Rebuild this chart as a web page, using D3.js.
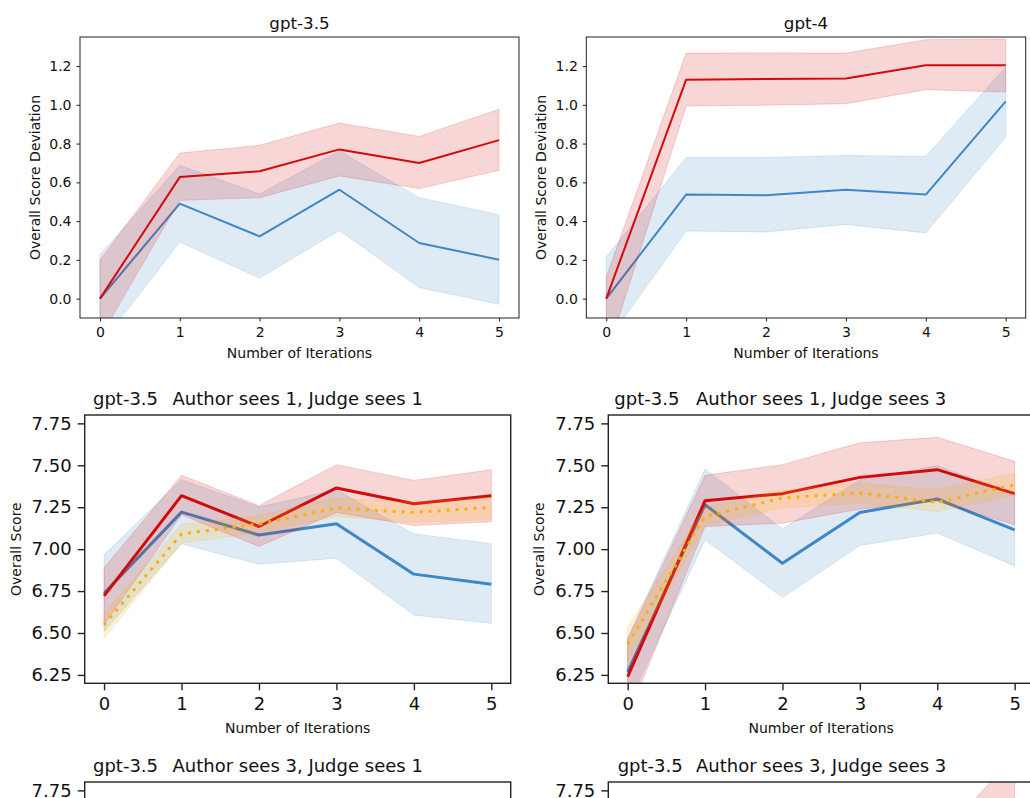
<!DOCTYPE html>
<meta charset="utf-8">
<style>
body { margin: 0; background: #fff; }
text { font-family: "DejaVu Sans", sans-serif; fill: #111; }
</style>
<svg width="1030" height="798"></svg>
<script src="https://d3js.org/d3.v7.min.js"></script>
<script>

// ---- data ----
var iterations = [0, 1, 2, 3, 4, 5];
var devTicks = [0, 0.2, 0.4, 0.6, 0.8, 1.0, 1.2];
var scoreTicks = [6.25, 6.5, 6.75, 7.0, 7.25, 7.5, 7.75];

// gpt-3.5, score deviation
var dev35RedMean  = [0, 0.627, 0.657, 0.770, 0.700, 0.818];
var dev35RedLow   = [-0.20, 0.507, 0.521, 0.633, 0.568, 0.662];
var dev35RedHigh  = [0.198, 0.751, 0.791, 0.906, 0.837, 0.977];
var dev35BlueMean = [0, 0.490, 0.321, 0.562, 0.287, 0.201];
var dev35BlueLow  = [-0.24, 0.292, 0.106, 0.352, 0.057, -0.029];
var dev35BlueHigh = [0.228, 0.688, 0.540, 0.762, 0.521, 0.433];

// gpt-4, score deviation
var dev4RedMean  = [0, 1.130, 1.133, 1.136, 1.204, 1.204];
var dev4RedLow   = [-0.30, 0.994, 0.998, 1.006, 1.078, 1.066];
var dev4RedHigh  = [0.111, 1.267, 1.268, 1.267, 1.336, 1.340];
var dev4BlueMean = [0, 0.537, 0.533, 0.562, 0.537, 1.018];
var dev4BlueLow  = [-0.227, 0.349, 0.344, 0.383, 0.339, 0.834];
var dev4BlueHigh = [0.215, 0.728, 0.728, 0.739, 0.734, 1.195];

// gpt-3.5, author sees 1, judge sees 1
var a1j1RedMean    = [6.721, 7.319, 7.135, 7.365, 7.271, 7.319];
var a1j1RedLow     = [6.55, 7.205, 7.016, 7.219, 7.141, 7.163];
var a1j1RedHigh    = [6.89, 7.44, 7.259, 7.504, 7.41, 7.474];
var a1j1BlueMean   = [6.737, 7.221, 7.084, 7.151, 6.851, 6.791];
var a1j1BlueLow    = [6.51, 7.032, 6.91, 6.946, 6.607, 6.558];
var a1j1BlueHigh   = [6.966, 7.414, 7.251, 7.354, 7.091, 7.032];
var a1j1OrangeMean = [6.548, 7.091, 7.15, 7.245, 7.219, 7.249];
var a1j1OrangeLow  = [6.468, 7.036, 7.10, 7.195, 7.16, 7.175];
var a1j1OrangeHigh = [6.62, 7.149, 7.20, 7.305, 7.28, 7.31];

// gpt-3.5, author sees 1, judge sees 3
var a1j3RedMean    = [6.239, 7.289, 7.331, 7.428, 7.474, 7.331];
var a1j3RedLow     = [6.00, 7.135, 7.155, 7.239, 7.285, 7.145];
var a1j3RedHigh    = [6.46, 7.44, 7.504, 7.634, 7.667, 7.524];
var a1j3BlueMean   = [6.268, 7.265, 6.916, 7.219, 7.299, 7.115];
var a1j3BlueLow    = [6.07, 7.056, 6.711, 7.022, 7.096, 6.90];
var a1j3BlueHigh   = [6.47, 7.478, 7.12, 7.414, 7.498, 7.33];
var a1j3OrangeMean = [6.434, 7.195, 7.305, 7.335, 7.279, 7.384];
var a1j3OrangeLow  = [6.33, 7.14, 7.245, 7.275, 7.225, 7.325];
var a1j3OrangeHigh = [6.537, 7.25, 7.35, 7.394, 7.354, 7.454];

// gpt-3.5, author sees 3, judge sees 1 (mostly below the visible edge)
var a3j1RedMean    = [6.70, 7.20, 7.24, 7.30, 7.27, 7.33];
var a3j1RedLow     = [6.52, 7.06, 7.10, 7.15, 7.12, 7.16];
var a3j1RedHigh    = [6.88, 7.34, 7.38, 7.45, 7.42, 7.50];
var a3j1BlueMean   = [6.72, 7.15, 7.05, 7.10, 6.95, 6.90];
var a3j1BlueLow    = [6.50, 6.96, 6.85, 6.90, 6.72, 6.66];
var a3j1BlueHigh   = [6.94, 7.34, 7.25, 7.30, 7.18, 7.14];
var a3j1OrangeMean = [6.55, 7.08, 7.14, 7.20, 7.18, 7.22];
var a3j1OrangeLow  = [6.47, 7.02, 7.09, 7.15, 7.12, 7.16];
var a3j1OrangeHigh = [6.63, 7.14, 7.19, 7.25, 7.24, 7.28];

// gpt-3.5, author sees 3, judge sees 3 (only the red band shows at the top)
var a3j3RedMean    = [6.30, 7.20, 7.25, 7.30, 7.30, 7.62];
var a3j3RedLow     = [6.10, 7.02, 7.08, 7.14, 7.15, 7.28];
var a3j3RedHigh    = [6.50, 7.38, 7.42, 7.46, 7.45, 7.96];
var a3j3BlueMean   = [6.28, 7.15, 7.00, 7.15, 7.20, 7.10];
var a3j3BlueLow    = [6.08, 6.95, 6.80, 6.95, 7.00, 6.88];
var a3j3BlueHigh   = [6.48, 7.35, 7.20, 7.35, 7.40, 7.32];
var a3j3OrangeMean = [6.42, 7.18, 7.27, 7.30, 7.26, 7.35];
var a3j3OrangeLow  = [6.32, 7.12, 7.21, 7.24, 7.20, 7.29];
var a3j3OrangeHigh = [6.52, 7.24, 7.33, 7.36, 7.32, 7.41];

var red = "#d40a0a", blue = "#3d87c6", orange = "#ffae00";

var svg = d3.select("svg"),
    height = +svg.attr("height");

function series(color, mean, low, high, dotted) {
  return { color: color, mean: mean, low: low, high: high, dotted: !!dotted };
}

var small = { tick: 14, label: 14, title: 16.7, tickLen: 3.5, pad: 5, line: 2, frame: 1 };
var big   = { tick: 18, label: 14, title: 18, tickLen: 7, pad: 6, line: 3, frame: 1.4 };

var panels = [
  { id: "p1", left: 80, right: 519, top: 37, bottom: 318, yDomain: [-0.1, 1.35],
    yTicks: devTicks, fmt: d3.format(".1f"), st: small,
    title: "gpt-3.5", ylabel: "Overall Score Deviation", ylabelX: 39.5, titleY: 29, xlabelY: 357.5,
    series: [series(blue, dev35BlueMean, dev35BlueLow, dev35BlueHigh),
             series(red, dev35RedMean, dev35RedLow, dev35RedHigh)] },
  { id: "p2", left: 586.3, right: 1025.7, top: 37, bottom: 318, yDomain: [-0.1, 1.35],
    yTicks: devTicks, fmt: d3.format(".1f"), st: small,
    title: "gpt-4", ylabel: "Overall Score Deviation", ylabelX: 546, titleY: 29, xlabelY: 357.5,
    series: [series(blue, dev4BlueMean, dev4BlueLow, dev4BlueHigh),
             series(red, dev4RedMean, dev4RedLow, dev4RedHigh)] },
  { id: "p3", left: 84.7, right: 510.7, top: 415, bottom: 683.3, yDomain: [6.2, 7.8],
    yTicks: scoreTicks, fmt: d3.format(".2f"), st: big,
    title: "Author sees 1, Judge sees 1", model: "gpt-3.5", modelX: 93,
    ylabel: "Overall Score", ylabelX: 20.5, titleY: 405, xlabelY: 733,
    series: [series(blue, a1j1BlueMean, a1j1BlueLow, a1j1BlueHigh),
             series(red, a1j1RedMean, a1j1RedLow, a1j1RedHigh),
             series(orange, a1j1OrangeMean, a1j1OrangeLow, a1j1OrangeHigh, true)] },
  { id: "p4", left: 608.3, right: 1034, top: 415, bottom: 683.3, yDomain: [6.2, 7.8],
    yTicks: scoreTicks, fmt: d3.format(".2f"), st: big,
    title: "Author sees 1, Judge sees 3", model: "gpt-3.5", modelX: 614.3,
    ylabel: "Overall Score", ylabelX: 543.5, titleY: 405, xlabelY: 733,
    series: [series(blue, a1j3BlueMean, a1j3BlueLow, a1j3BlueHigh),
             series(red, a1j3RedMean, a1j3RedLow, a1j3RedHigh),
             series(orange, a1j3OrangeMean, a1j3OrangeLow, a1j3OrangeHigh, true)] },
  { id: "p5", left: 84.7, right: 510.7, top: 782, bottom: 1050.3, yDomain: [6.2, 7.8],
    yTicks: scoreTicks, fmt: d3.format(".2f"), st: big,
    title: "Author sees 3, Judge sees 1", model: "gpt-3.5", modelX: 93,
    ylabel: "Overall Score", ylabelX: 20.5, titleY: 771.5, xlabelY: 1100,
    series: [series(blue, a3j1BlueMean, a3j1BlueLow, a3j1BlueHigh),
             series(red, a3j1RedMean, a3j1RedLow, a3j1RedHigh),
             series(orange, a3j1OrangeMean, a3j1OrangeLow, a3j1OrangeHigh, true)] },
  { id: "p6", left: 608.3, right: 1034, top: 782, bottom: 1050.3, yDomain: [6.2, 7.8],
    yTicks: scoreTicks, fmt: d3.format(".2f"), st: big,
    title: "Author sees 3, Judge sees 3", model: "gpt-3.5", modelX: 617.7,
    ylabel: "Overall Score", ylabelX: 543.5, titleY: 771.5, xlabelY: 1100,
    series: [series(blue, a3j3BlueMean, a3j3BlueLow, a3j3BlueHigh),
             series(red, a3j3RedMean, a3j3RedLow, a3j3RedHigh),
             series(orange, a3j3OrangeMean, a3j3OrangeLow, a3j3OrangeHigh, true)] }
];

panels.forEach(drawPanel);

function drawPanel(p) {
  var st = p.st;
  var x = d3.scaleLinear().domain([-0.25, 5.25]).range([p.left, p.right]);
  var y = d3.scaleLinear().domain(p.yDomain).range([p.bottom, p.top]);
  // the last row runs off the page: only draw what lands on it
  var onPage = p.bottom < height;

  svg.append("clipPath").attr("id", "clip-" + p.id)
    .append("rect")
      .attr("x", p.left).attr("y", p.top)
      .attr("width", p.right - p.left).attr("height", p.bottom - p.top);

  var g = svg.append("g").attr("clip-path", "url(#clip-" + p.id + ")");

  var area = d3.area()
      .x(function(d, i) { return x(iterations[i]); })
      .y0(function(d) { return y(d[0]); })
      .y1(function(d) { return y(d[1]); });
  var line = d3.line()
      .x(function(d, i) { return x(iterations[i]); })
      .y(function(d) { return y(d); });

  p.series.forEach(function(s) {
    var band = s.low.map(function(v, i) { return [v, s.high[i]]; });
    g.append("path")
        .datum(band)
        .attr("d", area)
        .attr("fill", s.color)
        .attr("fill-opacity", 0.17)
        .attr("stroke", s.color)
        .attr("stroke-opacity", 0.17)
        .attr("stroke-width", 1);
    g.append("path")
        .datum(s.mean)
        .attr("d", line)
        .attr("fill", "none")
        .attr("stroke", s.color)
        .attr("stroke-width", st.line)
        .attr("stroke-dasharray", s.dotted ? "3,6" : null)
        .attr("stroke-linejoin", "round");
  });

  var axes = [];
  if (onPage) {
    axes.push(svg.append("g")
        .attr("transform", "translate(0," + p.bottom + ")")
        .call(d3.axisBottom(x).tickValues(iterations).tickFormat(d3.format("d"))
            .tickSize(st.tickLen).tickPadding(st.pad + 1)));
  }
  var yTicks = p.yTicks.filter(function(t) { return y(t) < height - 6; });
  axes.push(svg.append("g")
      .attr("transform", "translate(" + p.left + ",0)")
      .call(d3.axisLeft(y).tickValues(yTicks).tickFormat(p.fmt)
          .tickSize(st.tickLen).tickPadding(st.pad)));

  axes.forEach(function(a) {
    a.select(".domain").remove();
    a.attr("font-family", null).attr("font-size", null);
    a.selectAll("line").attr("stroke", "#222").attr("stroke-width", st.frame);
    a.selectAll("text").style("font-size", st.tick + "px").attr("fill", "#111");
  });

  svg.append("rect")
      .attr("x", p.left).attr("y", p.top)
      .attr("width", p.right - p.left).attr("height", p.bottom - p.top)
      .attr("fill", "none")
      .attr("stroke", "#222")
      .attr("stroke-width", st.frame);

  var cx = (p.left + p.right) / 2;
  svg.append("text")
      .attr("x", cx).attr("y", p.titleY)
      .attr("text-anchor", "middle")
      .style("font-size", st.title + "px")
      .text(p.title);
  if (p.model) {
    svg.append("text")
        .attr("x", p.modelX).attr("y", p.titleY)
        .style("font-size", st.title + "px")
        .text(p.model);
  }

  if (onPage) {
    svg.append("text")
        .attr("x", cx).attr("y", p.xlabelY)
        .attr("text-anchor", "middle")
        .style("font-size", st.label + "px")
        .text("Number of Iterations");

    svg.append("text")
        .attr("transform", "translate(" + p.ylabelX + "," + ((p.top + p.bottom) / 2) + ") rotate(-90)")
        .attr("text-anchor", "middle")
        .style("font-size", st.label + "px")
        .text(p.ylabel);
  }
}

</script>
